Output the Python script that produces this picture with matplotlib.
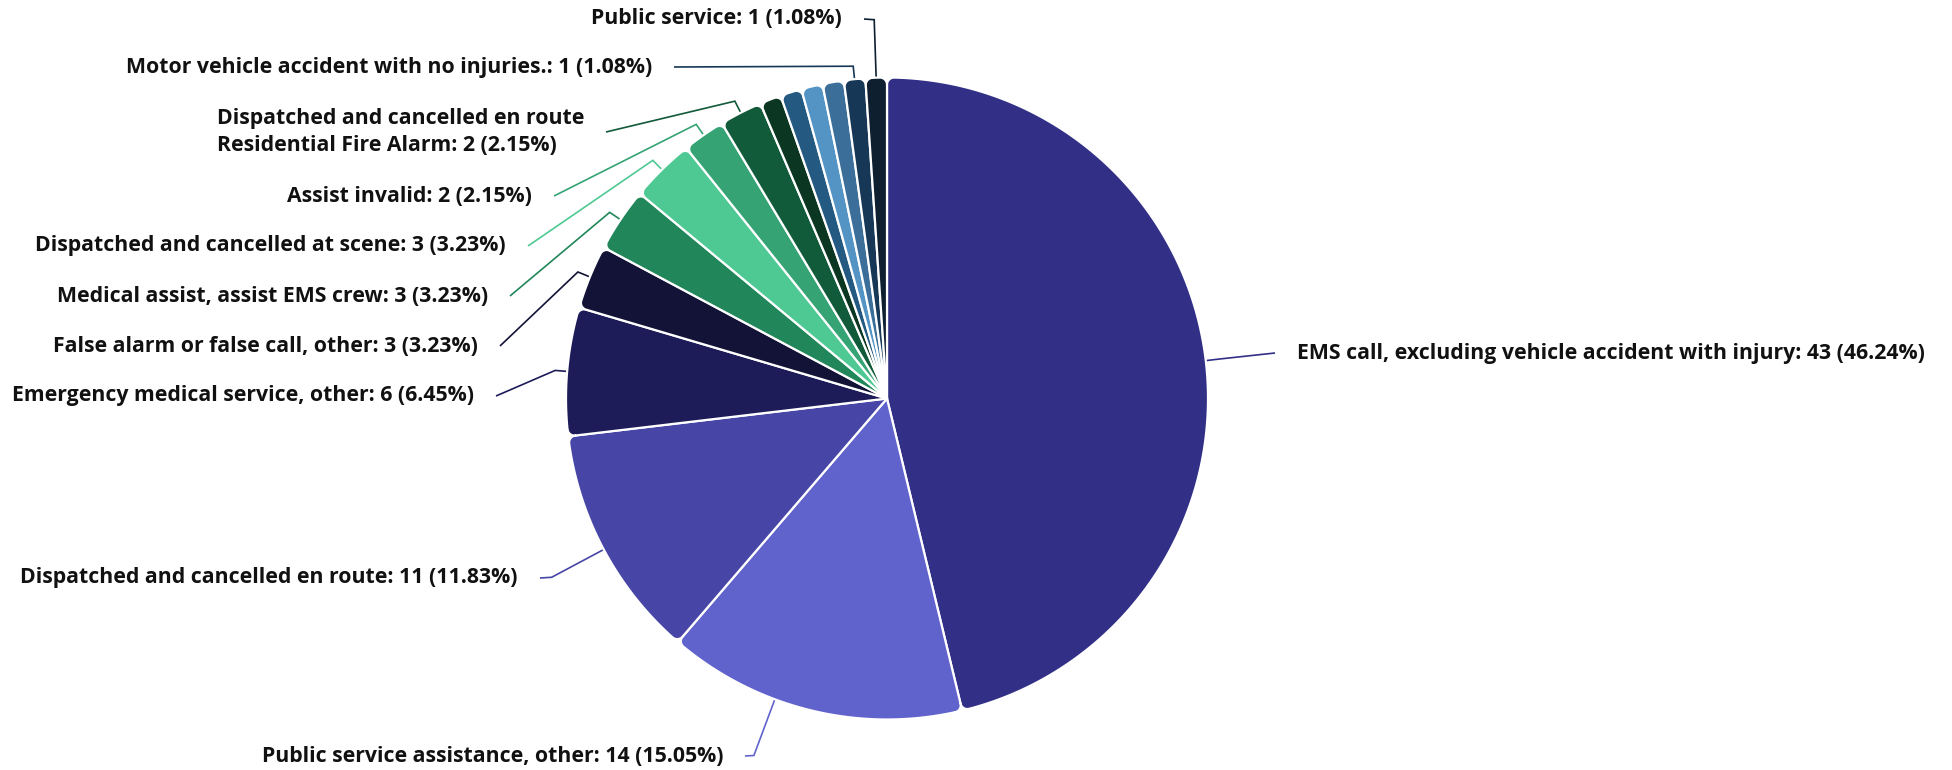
import numpy as np
import matplotlib
matplotlib.use("Agg")
import matplotlib.pyplot as plt
from matplotlib.patches import Polygon

# ---------------- data ----------------
names = [
    "EMS call, excluding vehicle accident with injury",
    "Public service assistance, other",
    "Dispatched and cancelled en route",
    "Emergency medical service, other",
    "False alarm or false call, other",
    "Medical assist, assist EMS crew",
    "Dispatched and cancelled at scene",
    "Assist invalid",
    "Dispatched and cancelled en route\nResidential Fire Alarm",
    "", "", "", "",
    "Motor vehicle accident with no injuries.",
    "Public service",
]
values = [43, 14, 11, 6, 3, 3, 3, 2, 2, 1, 1, 1, 1, 1, 1]
colors = ["#322f87", "#6163cd", "#4746a7", "#1e1c58", "#131337", "#21875a",
          "#4fc994", "#35a373", "#115a3a", "#0b3622", "#245a82", "#5394c5",
          "#3b6f99", "#163755", "#0e1f30"]

# ---------------- layout (pixel space, image y downwards) ----------------
W, H = 1952, 770
CX, CY_IMG, R = 887, 398.5, 321
CORNER = 7
# label-line end points for labelled slices (index -> (x, y_img, radial len, angle offset))
label_layout = {
    0: (1275, 353, 13, 0.0),
    1: (745, 756, 60, -6.9),
    2: (540, 578, 59, 0.0),
    3: (496, 396, 12, 0.0),
    4: (500, 346, 13, 0.0),
    5: (510, 296, 13, 0.0),
    6: (528, 246, 13, 0.0),
    7: (554, 196, 13, 0.0),
    8: (606, 132, 13, 0.0),
    13: (674, 67, 13, 0.0),
    14: (864, 19, 58, 0.0),
}
GAP = 22

plt.rcParams['font.family'] = ['Open Sans', 'DejaVu Sans']

fig = plt.figure(figsize=(W / 100, H / 100), dpi=100)
ax = fig.add_axes([0, 0, 1, 1])
CY = H - CY_IMG

wedges, _ = ax.pie(values, colors=colors, startangle=90, counterclock=False,
                   center=(CX, CY), radius=R,
                   wedgeprops=dict(edgecolor="white", linewidth=1.6))
ax.set_xlim(0, W)
ax.set_ylim(0, H)
ax.set_aspect("equal")
ax.axis("off")


def rounded_sector(w, rc):
    """Outline of a pie wedge with rounded outer corners."""
    cx, cy = w.center
    r = w.r
    a1, a2 = np.deg2rad(w.theta1), np.deg2rad(w.theta2)
    phi = np.arcsin(rc / (r - rc))
    d = np.sqrt((r - rc) ** 2 - rc ** 2)
    pts = [(cx, cy), (cx + d * np.cos(a1), cy + d * np.sin(a1))]
    c1 = (a1 + phi)
    f1c = (cx + (r - rc) * np.cos(c1), cy + (r - rc) * np.sin(c1))
    for t in np.linspace(a1 - np.pi / 2, a1 + phi, 12):
        pts.append((f1c[0] + rc * np.cos(t), f1c[1] + rc * np.sin(t)))
    for t in np.linspace(a1 + phi, a2 - phi, max(int(np.rad2deg(a2 - a1)) * 2, 4)):
        pts.append((cx + r * np.cos(t), cy + r * np.sin(t)))
    c2 = (a2 - phi)
    f2c = (cx + (r - rc) * np.cos(c2), cy + (r - rc) * np.sin(c2))
    for t in np.linspace(a2 - phi, a2 + np.pi / 2, 12):
        pts.append((f2c[0] + rc * np.cos(t), f2c[1] + rc * np.sin(t)))
    pts.append((cx + d * np.cos(a2), cy + d * np.sin(a2)))
    return np.array(pts)


for w in wedges:
    w.set_visible(False)
    ax.add_patch(Polygon(rounded_sector(w, CORNER), closed=True,
                         facecolor=w.get_facecolor(), edgecolor="white",
                         linewidth=1.6, joinstyle="round", zorder=2))

total = sum(values)
texts = []
for i, (name, v, w) in enumerate(zip(names, values, wedges)):
    if i not in label_layout or not name:
        continue
    ex, ey_img, L1, off = label_layout[i]
    ey = H - ey_img
    ang = np.deg2rad((w.theta1 + w.theta2) / 2 + off)
    p0 = (CX + R * np.cos(ang), CY + R * np.sin(ang))
    p1 = (CX + (R + L1) * np.cos(ang), CY + (R + L1) * np.sin(ang))
    ax.plot([p0[0], p1[0], ex], [p0[1], p1[1], ey], color=colors[i], lw=1.2,
            solid_joinstyle="miter", solid_capstyle="butt", zorder=1)
    right = ex > CX
    txt = f"{name}: {v} ({v / total * 100:.2f}%)"
    t = ax.text(ex + GAP if right else ex - GAP, ey, txt,
                ha="left" if right else "right", va="center",
                multialignment="left", fontweight="bold", fontsize=14,
                color="#111111", linespacing=1.42)
    texts.append((i, t))

# fit font size so that the first label has the reference width
fig.canvas.draw()
renderer = fig.canvas.get_renderer()
t0 = dict(texts)[0]
wpx = t0.get_window_extent(renderer).width
scale = 630 / wpx
for _, t in texts:
    t.set_fontsize(14 * scale)

fig.savefig("out.png", dpi=100, facecolor="white")
